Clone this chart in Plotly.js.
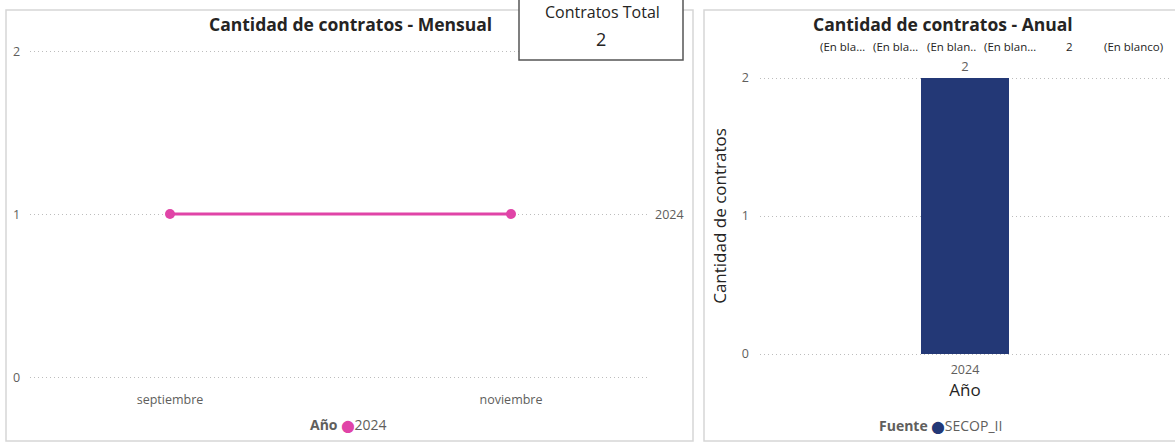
<!DOCTYPE html>
<html>
<head>
<meta charset="utf-8">
<script src="https://cdn.plot.ly/plotly-3.0.1.min.js"></script>
<style>
html,body{margin:0;padding:0;background:#fff;}
#chart{width:1175px;height:444px;}
</style>
</head>
<body>
<div id="chart"></div>
<script>
// ---- data ----
const months = ["septiembre", "noviembre"];
const monthlyCounts = [1, 1];
const lineSeriesName = "2024";
const years = ["2024"];
const yearlyCounts = [2];
const barSeriesName = "SECOP_II";
const topLabels = ["(En bla…", "(En bla…", "(En blan..", "(En blan…", "2", "(En blanco)"];
const totalContracts = 2;

const W = 1175, H = 444;
const px = x => x / W;
const py = y => 1 - y / H;

const FONT = "Open Sans, Noto Sans, sans-serif";
const tickFont = {family: FONT, size: 12.5, color: "#605E5C"};
const pink = "#E044A7";
const navy = "#233876";
const gridDash = "1px,3px";

const traces = [
  {
    type: "scatter", mode: "lines+markers",
    x: months, y: monthlyCounts, name: lineSeriesName,
    xaxis: "x", yaxis: "y",
    line: {color: pink, width: 3},
    marker: {color: pink, size: 10},
    showlegend: false, hoverinfo: "x+y"
  },
  {
    type: "bar",
    x: years, y: yearlyCounts, name: barSeriesName,
    xaxis: "x2", yaxis: "y2",
    marker: {color: navy},
    text: yearlyCounts.map(String), textposition: "outside",
    textfont: {family: FONT, size: 13, color: "#605E5C"},
    cliponaxis: false, showlegend: false
  }
];

const lScale = (377 - 51) / 2, rScale = (354 - 78) / 2, pad = 0.05;
const lxUnit = 511 - 170;
const lxLeft = 30, lxRight = 650;

const layout = {
  width: W, height: H,
  margin: {l: 0, r: 0, t: 0, b: 0},
  paper_bgcolor: "#fff", plot_bgcolor: "rgba(0,0,0,0)",
  showlegend: false,
  bargap: 1 - 88 / 410,
  xaxis: {
    domain: [px(lxLeft), px(lxRight)], anchor: "y", type: "category",
    range: [-(170 - lxLeft) / lxUnit, 1 + (lxRight - 511) / lxUnit],
    showgrid: false, zeroline: false, showline: false, ticks: "",
    tickfont: tickFont, ticklabelstandoff: 5
  },
  yaxis: {
    domain: [py(377 + pad * lScale), py(51 - pad * lScale)], anchor: "free", position: 0,
    range: [-pad, 2 + pad], tickvals: [0, 1, 2],
    showgrid: true, gridcolor: "#BDBDBD", griddash: gridDash, gridwidth: 1,
    zeroline: false, showline: false, ticks: "", showticklabels: false
  },
  xaxis2: {
    domain: [px(760), px(1170)], anchor: "y2", type: "category",
    range: [-0.5, 0.5],
    showgrid: false, zeroline: false, showline: false, ticks: "",
    tickfont: tickFont,
    title: {text: "Año", font: {family: FONT, size: 17, color: "#252423"}, standoff: 6}
  },
  yaxis2: {
    domain: [py(354 + pad * rScale), py(78 - pad * rScale)], anchor: "x2",
    range: [-pad, 2 + pad], tickvals: [0, 1, 2],
    showgrid: true, gridcolor: "#BDBDBD", griddash: gridDash, gridwidth: 1,
    zeroline: false, showline: false, ticks: "",
    tickfont: tickFont, ticklabelstandoff: 10,
    title: {text: "Cantidad de contratos", font: {family: FONT, size: 17, color: "#252423"}, standoff: 10}
  },
  shapes: [
    {type: "rect", xref: "paper", yref: "paper", x0: px(6), x1: px(693), y0: py(441), y1: py(10),
     line: {color: "#D6D6D6", width: 1.5}, fillcolor: "rgba(0,0,0,0)", layer: "below"},
    {type: "rect", xref: "paper", yref: "paper", x0: px(704), x1: px(1180), y0: py(441), y1: py(10),
     line: {color: "#D6D6D6", width: 1.5}, fillcolor: "rgba(0,0,0,0)", layer: "below"},
    {type: "rect", xref: "paper", yref: "paper", x0: px(519), x1: px(683), y0: py(60), y1: py(-5),
     line: {color: "#555555", width: 1.5}, fillcolor: "#FFFFFF", layer: "above"}
  ],
  annotations: []
};

const ann = layout.annotations;
[0, 1, 2].forEach(v => ann.push({
  xref: "paper", yref: "y", x: px(16), y: v, text: String(v), showarrow: false,
  font: tickFont, xanchor: "center", yanchor: "middle"
}));
ann.push({xref: "paper", yref: "paper", x: px(350), y: py(24), text: "<b>Cantidad de contratos - Mensual</b>",
  showarrow: false, font: {family: FONT, size: 17.5, color: "#252423"}, xanchor: "center", yanchor: "middle"});
ann.push({xref: "paper", yref: "paper", x: px(943), y: py(24), text: "<b>Cantidad de contratos - Anual</b>",
  showarrow: false, font: {family: FONT, size: 17.5, color: "#252423"}, xanchor: "center", yanchor: "middle"});
ann.push({xref: "paper", yref: "paper", x: px(602), y: py(12), text: "Contratos Total",
  showarrow: false, font: {family: FONT, size: 16, color: "#252423"}, xanchor: "center", yanchor: "middle"});
ann.push({xref: "paper", yref: "paper", x: px(601), y: py(39), text: String(totalContracts),
  showarrow: false, font: {family: FONT, size: 18, color: "#252423"}, xanchor: "center", yanchor: "middle"});
ann.push({xref: "paper", yref: "y", x: px(669), y: monthlyCounts[monthlyCounts.length - 1], text: lineSeriesName,
  showarrow: false, font: tickFont, xanchor: "center", yanchor: "middle"});
const topX = [842, 895, 951, 1010, 1069, 1133];
topLabels.forEach((t, i) => ann.push({xref: "paper", yref: "paper", x: px(topX[i]), y: py(46), text: t,
  showarrow: false, font: {family: FONT, size: 11.5, color: "#252423"}, xanchor: "center", yanchor: "middle"}));
const dot = c => "<span style='color:" + c + ";font-family:DejaVu Sans;font-size:12px'>⬤</span>";
ann.push({xref: "paper", yref: "paper", x: px(348), y: py(424),
  text: "<b>Año</b> " + dot(pink) + lineSeriesName,
  showarrow: false, font: {family: FONT, size: 14, color: "#605E5C"}, xanchor: "center", yanchor: "middle"});
ann.push({xref: "paper", yref: "paper", x: px(940), y: py(425),
  text: "<b>Fuente</b> " + dot(navy) + barSeriesName,
  showarrow: false, font: {family: FONT, size: 14, color: "#605E5C"}, xanchor: "center", yanchor: "middle"});

Plotly.newPlot("chart", traces, layout, {displayModeBar: false, staticPlot: true});
</script>
</body>
</html>
